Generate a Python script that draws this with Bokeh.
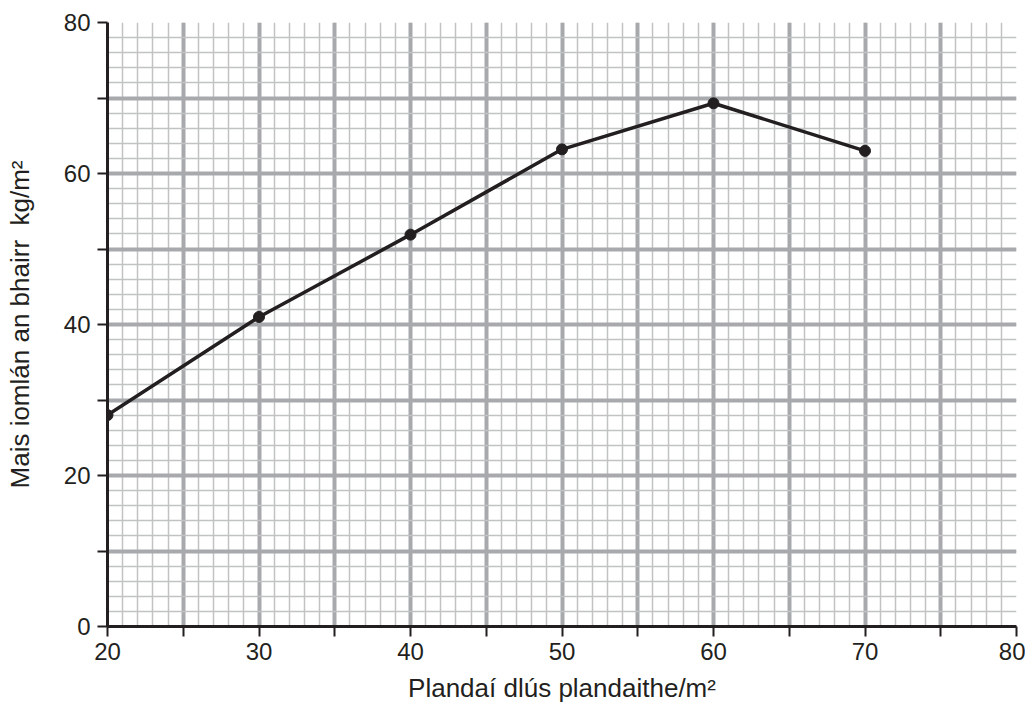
from bokeh.plotting import figure
from bokeh.models import Range1d, FixedTicker
from bokeh.embed import file_html
from bokeh.resources import INLINE

# Data
density = [20, 30, 40, 50, 60, 70]
mass = [28, 41, 51.9, 63.2, 69.3, 63]

x_labels = [20, 30, 40, 50, 60, 70, 80]
x_minor_ticks = [25, 35, 45, 55, 65, 75]
y_labels = [0, 20, 40, 60, 80]
y_minor_ticks = [10, 30, 50, 70]

x_grid_major = list(range(20, 81, 5))
x_grid_minor = list(range(20, 81, 1))
y_grid_major = list(range(0, 81, 10))
y_grid_minor = list(range(0, 81, 2))

x_title = "Plandaí dlús plandaithe/m²"
y_title = "Mais iomlán an bhairr \u00a0kg/m²"

FONT = "Liberation Sans"
TXT = "#231f20"

p = figure(width=1025, height=714, output_backend="svg", toolbar_location=None,
           x_range=Range1d(20, 80), y_range=Range1d(0, 80),
           min_border_left=107, min_border_right=9, min_border_top=22, min_border_bottom=88)
p.outline_line_color = None
p.background_fill_color = "white"
p.border_fill_color = "white"

# grids
p.xgrid.ticker = FixedTicker(ticks=x_grid_major, minor_ticks=x_grid_minor)
p.ygrid.ticker = FixedTicker(ticks=y_grid_major, minor_ticks=y_grid_minor)
for g in (p.xgrid, p.ygrid):
    g.grid_line_color = "#a7a9ac"
    g.grid_line_width = 4
    g.minor_grid_line_color = "#c0c2c4"
    g.minor_grid_line_width = 1.5

# axes
p.xaxis.ticker = FixedTicker(ticks=x_labels, minor_ticks=x_minor_ticks)
p.yaxis.ticker = FixedTicker(ticks=y_labels, minor_ticks=y_minor_ticks)
for ax in (p.xaxis, p.yaxis):
    ax.axis_line_color = TXT
    ax.axis_line_width = 3
    ax.major_tick_line_color = TXT
    ax.major_tick_line_width = 2
    ax.major_tick_out = 10
    ax.major_tick_in = 0
    ax.minor_tick_line_color = TXT
    ax.minor_tick_line_width = 2
    ax.minor_tick_out = 10
    ax.minor_tick_in = 0
    ax.major_label_text_font = FONT
    ax.major_label_text_font_size = "24px"
    ax.major_label_text_color = TXT
    ax.axis_label_text_font = FONT
    ax.axis_label_text_font_size = "26px"
    ax.axis_label_text_font_style = "normal"
    ax.axis_label_text_color = TXT
p.xaxis.major_label_standoff = 6
p.yaxis.major_label_standoff = 7
p.xaxis.axis_label = x_title
p.yaxis.axis_label = y_title
p.xaxis.axis_label_standoff = 10
p.yaxis.axis_label_standoff = 26

# data
p.line(density, mass, line_color=TXT, line_width=3.5)
p.scatter(density, mass, size=11, fill_color=TXT, line_color=TXT)

open("out.html", "w").write(file_html(p, INLINE))
